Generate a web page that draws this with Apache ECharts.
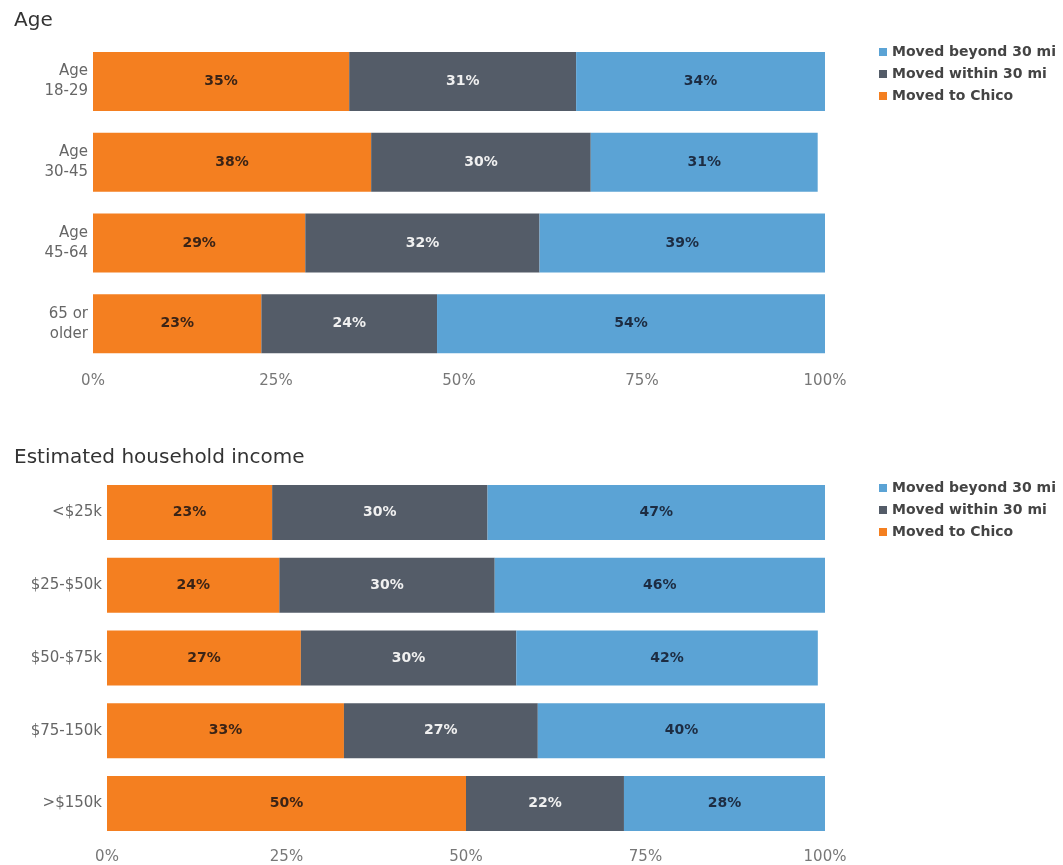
<!DOCTYPE html>
<html>
<head>
<meta charset="utf-8">
<script src="https://cdn.jsdelivr.net/npm/echarts@6/dist/echarts.min.js"></script>
<style>
html,body{margin:0;padding:0;background:#fff;}
#chart{width:1063px;height:865px;}
</style>
</head>
<body>
<div id="chart"></div>
<script>
// Age breakdown
const ageCategories = ['Age\n18-29', 'Age\n30-45', 'Age\n45-64', '65 or\nolder'];
const ageChico = [35, 38, 29, 23];
const ageWithin = [31, 30, 32, 24];
const ageBeyond = [34, 31, 39, 54];

// Income breakdown
const incomeCategories = ['<$25k', '$25-$50k', '$50-$75k', '$75-150k', '>$150k'];
const incomeChico = [23, 24, 27, 33, 50];
const incomeWithin = [30, 30, 30, 27, 22];
const incomeBeyond = [47, 46, 42, 40, 28];

const xTicks = [0, 25, 50, 75, 100];

const seriesNames = ['Moved to Chico', 'Moved within 30 mi', 'Moved beyond 30 mi'];
const colors = ['#F47F20', '#545C68', '#5BA3D5'];
const labelColors = ['#3b2416', '#f0f0f0', '#1d2c42'];
const FONT = '"DejaVu Sans", Verdana, sans-serif';

function makeSeries(idx, data, axisIndex, barWidth) {
  return {
    name: seriesNames[idx],
    type: 'bar',
    stack: 'total' + axisIndex,
    xAxisIndex: axisIndex,
    yAxisIndex: axisIndex,
    barWidth: barWidth,
    data: data,
    itemStyle: { color: colors[idx] },
    label: {
      show: true,
      position: 'inside',
      formatter: p => p.value + '%',
      color: labelColors[idx],
      fontFamily: FONT,
      fontWeight: 'bold',
      fontSize: 14
    }
  };
}

function xAxis(gridIndex) {
  return {
    type: 'value',
    gridIndex: gridIndex,
    min: 0, max: 100, interval: 25,
    axisLine: { show: false },
    axisTick: { show: false },
    splitLine: { show: false },
    axisLabel: {
      formatter: v => xTicks.indexOf(v) >= 0 ? v + '%' : '',
      color: '#777',
      fontFamily: FONT,
      fontSize: 15,
      margin: 10
    }
  };
}

function yAxis(gridIndex, cats) {
  return {
    type: 'category',
    gridIndex: gridIndex,
    data: cats,
    inverse: true,
    axisLine: { show: false },
    axisTick: { show: false },
    axisLabel: {
      color: '#666',
      fontFamily: FONT,
      fontSize: 15,
      lineHeight: 20,
      margin: 5
    }
  };
}

const legendText = { color: '#444', fontFamily: FONT, fontSize: 14, fontWeight: 'bold' };
const legendOrder = ['Moved beyond 30 mi', 'Moved within 30 mi', 'Moved to Chico'];

const chart = echarts.init(document.getElementById('chart'));
chart.setOption({
  animation: false,
  backgroundColor: '#fff',
  title: [
    { text: 'Age', left: 9, top: 6, textStyle: { color: '#333', fontFamily: FONT, fontSize: 20, fontWeight: 'normal' } },
    { text: 'Estimated household income', left: 9, top: 443, textStyle: { color: '#333', fontFamily: FONT, fontSize: 20, fontWeight: 'normal' } }
  ],
  legend: [
    { data: legendOrder, orient: 'vertical', left: 874, top: 40, itemWidth: 8, itemHeight: 8, itemGap: 8, icon: 'rect', textStyle: legendText },
    { data: legendOrder, orient: 'vertical', left: 874, top: 476, itemWidth: 8, itemHeight: 8, itemGap: 8, icon: 'rect', textStyle: legendText }
  ],
  grid: [
    { left: 93, right: 238, top: 41, height: 323 },
    { left: 107, right: 238, top: 476, height: 364 }
  ],
  xAxis: [xAxis(0), xAxis(1)],
  yAxis: [yAxis(0, ageCategories), yAxis(1, incomeCategories)],
  series: [
    makeSeries(0, ageChico, 0, 59),
    makeSeries(1, ageWithin, 0, 59),
    makeSeries(2, ageBeyond, 0, 59),
    makeSeries(0, incomeChico, 1, 55),
    makeSeries(1, incomeWithin, 1, 55),
    makeSeries(2, incomeBeyond, 1, 55)
  ]
});
</script>
</body>
</html>
